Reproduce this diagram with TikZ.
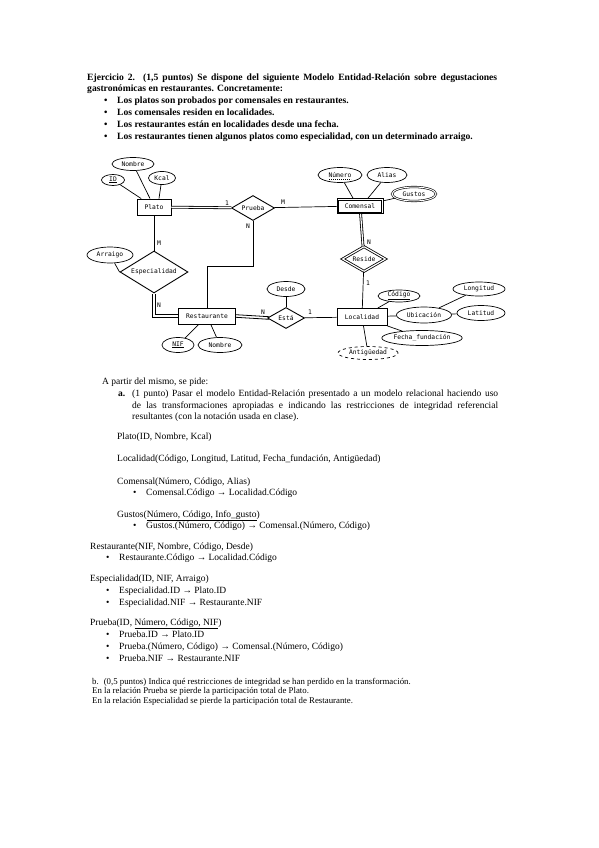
\documentclass[tikz,border=0pt]{standalone}
\usepackage{fontspec}
\setmainfont{Liberation Serif}
\setmonofont{DejaVu Sans Mono}
\usetikzlibrary{shapes.geometric}
\newcommand{\ermono}{\ttfamily\fontsize{6.3}{7}\selectfont}
\newcommand{\txtfont}{\fontsize{9.5}{11}\selectfont}
\newcommand{\smallfont}{\fontsize{8.8}{10}\selectfont}
\newcommand{\bul}{\makebox[13pt][l]{\textbullet}}
\tikzset{
  entity/.style={rectangle,draw,line width=0.9pt,inner sep=1pt,minimum height=16pt,font=\ermono},
  rel/.style={diamond,draw,line width=0.9pt,shape aspect=1.6,inner sep=0pt,font=\ermono},
  weakrel/.style={rel,line width=0.8pt,double,double distance=1.2pt},
  attr/.style={ellipse,draw,line width=0.7pt,inner sep=0pt,minimum height=15pt,font=\ermono},
  link/.style={draw,line width=0.7pt},
  twin/.style={draw,line width=0.8pt},
  total/.style={draw,line width=0.8pt,double,double distance=1.2pt},
  card/.style={inner sep=0pt,font=\ermono},
  txt/.style={anchor=base west,inner sep=0pt,font=\txtfont},
  ttl/.style={txt,font=\fontsize{9.6}{11}\selectfont\bfseries},
  note/.style={txt,font=\smallfont}
}
\begin{document}
\begin{tikzpicture}[x=1pt,y=-1pt]
\fill[white] (0,0) rectangle (599,848);
\useasboundingbox (0,0) rectangle (599,848);

% enunciado
\node[ttl] (h1) at (87,81) {\makebox[410pt][s]{Ejercicio 2. (1,5 puntos) Se dispone del siguiente Modelo Entidad-Relación sobre degustaciones}};
\node[ttl] (h2) at (87,92) {gastronómicas en restaurantes. Concretamente:};
\node[ttl] (h3) at (104,103.5) {\bul Los platos son probados por comensales en restaurantes.};
\node[ttl] (h4) at (104,115.5) {\bul Los comensales residen en localidades.};
\node[ttl] (h5) at (104,127.5) {\bul Los restaurantes están en localidades desde una fecha.};
\node[ttl] (h6) at (104,139.5) {\bul Los restaurantes tienen algunos platos como especialidad, con un determinado arraigo.};

% entidades y relaciones
\node[entity,minimum width=34pt] (plato) at (154,207) {Plato};
\node[entity,line width=0.7pt,minimum width=46pt,minimum height=15pt] (comensal) at (360,206) {Comensal};
\draw[twin,line width=0.6pt] ([shift={(2,2)}]comensal.north west) rectangle ([shift={(-2,-2)}]comensal.south east);
\node[entity,minimum width=57pt] (restaurante) at (207,316) {Restaurante};
\node[entity,minimum width=50pt,minimum height=17pt] (localidad) at (362,317) {Localidad};
\node[rel,minimum width=43pt,minimum height=25pt] (prueba) at (253,208) {Prueba};
\node[weakrel,minimum width=43pt,minimum height=25pt] (reside) at (364,259) {Reside};
\node[rel,minimum width=68pt,minimum height=42pt] (especialidad) at (154,272) {Especialidad};
\node[rel,minimum width=37pt,minimum height=21pt] (esta) at (286,318) {Está};

% atributos
\node[attr,minimum width=23pt,minimum height=11pt] (idplato) at (113,180) {\underline{ID}};
\node[attr,minimum width=42pt,minimum height=13pt] (nombrep) at (133,164) {Nombre};
\node[attr,minimum width=27pt,minimum height=13pt] (kcal) at (162,178) {Kcal};
\node[attr,minimum width=44pt] (numero) at (340,175) {Número};
\draw[line width=0.5pt,dash pattern=on 1.2pt off 0.8pt] ([shift={(-11,4)}]numero.center) -- ([shift={(11,4)}]numero.center);
\node[attr,minimum width=40pt] (alias) at (387,175) {Alias};
\node[attr,line width=0.6pt,double,double distance=1pt,minimum width=44pt,minimum height=14pt] (gustos) at (414,194) {Gustos};
\node[attr,minimum width=46pt,minimum height=16pt] (arraigo) at (110,255) {Arraigo};
\node[attr,minimum width=32pt] (nif) at (178,345) {\underline{NIF}};
\node[attr,minimum width=44pt] (nombrer) at (220,345) {Nombre};
\node[attr,minimum width=38pt] (desde) at (286,289) {Desde};
\node[attr,minimum width=42pt,minimum height=12pt] (codigo) at (399,296) {\underline{Código}};
\node[attr,minimum width=55pt,minimum height=16pt] (ubicacion) at (424,315) {Ubicación};
\node[attr,minimum width=52pt,minimum height=14pt] (longitud) at (479,289) {Longitud};
\node[attr,minimum width=48pt] (latitud) at (481,313) {Latitud};
\node[attr,minimum width=79pt] (fecha) at (422,338) {Fecha\_fundación};
\node[attr,dashed,minimum width=60pt,minimum height=13pt] (antig) at (368,353) {Antigüedad};

% conexiones
\draw[total] (plato) -- (prueba);
\draw[link] (prueba) -- (comensal);
\draw[link] (prueba.south) -- ++(0,45) -| (restaurante.north);
\draw[link] (plato) -- (especialidad);
\draw[twin] ([yshift=-1.3pt]restaurante.west) -| ([xshift=-1.3pt,yshift=-1pt]especialidad.south);
\draw[twin] ([yshift=1.3pt]restaurante.west) -| ([xshift=1.3pt,yshift=-1pt]especialidad.south);
\draw[twin] ([yshift=1.3pt]restaurante.east) -- ([xshift=2pt,yshift=1.3pt]esta.west);
\draw[twin] ([yshift=-1.3pt]restaurante.east) -- ([xshift=2pt,yshift=-1.3pt]esta.west);
\draw[link] (esta) -- (localidad);
\draw[total] (comensal) -- (reside);
\draw[link] (reside) -- (localidad);
\draw[link] (plato) -- (idplato);
\draw[link] ([xshift=-4pt]plato.north) -- (nombrep);
\draw[link] ([xshift=5pt]plato.north) -- (kcal);
\draw[link] ([xshift=-7pt]comensal.north) -- (numero);
\draw[link] ([xshift=8pt]comensal.north) -- (alias);
\draw[link] (comensal) -- (gustos);
\draw[link] (especialidad.west) -- (arraigo);
\draw[link] (restaurante) -- (nif);
\draw[link] (restaurante) -- (nombrer);
\draw[link] (esta) -- (desde);
\draw[link] (localidad) -- (codigo);
\draw[link] (localidad) -- (ubicacion);
\draw[link] (ubicacion) -- (longitud);
\draw[link] (ubicacion) -- (latitud);
\draw[link] (localidad.south east) -- (fecha);
\draw[link] (localidad) -- (antig);

% cardinalidades
\node[card] (c1) at (227,203) {1};
\node[card] (c2) at (283,202) {M};
\node[card] (c3) at (248,226) {N};
\node[card] (c4) at (159,243) {M};
\node[card] (c5) at (159,305) {N};
\node[card] (c6) at (263,312) {N};
\node[card] (c7) at (310,312) {1};
\node[card] (c8) at (369,242) {N};
\node[card] (c9) at (368,283) {1};

% apartado a
\node[txt] (p0) at (102,384) {A partir del mismo, se pide:};
\node[txt] (p1) at (118,396) {\makebox[14pt][l]{\textbf{a.}}\makebox[366pt][s]{(1 punto) Pasar el modelo Entidad-Relación presentado a un modelo relacional haciendo uso}};
\node[txt] (p2) at (132,408) {\makebox[366pt][s]{de las transformaciones apropiadas e indicando las restricciones de integridad referencial}};
\node[txt] (p3) at (132,419) {resultantes (con la notación usada en clase).};

\node[txt] (r1) at (117,439) {Plato(ID, Nombre, Kcal)};
\node[txt] (r2) at (117,461) {Localidad(Código, Longitud, Latitud, Fecha\_fundación, Antigüedad)};
\node[txt] (r3) at (117,484) {Comensal(Número, Código, Alias)};
\node[txt] (r3a) at (133,495) {\bul Comensal.Código → Localidad.Código};
\node[txt] (r4) at (117,517) {Gustos(\underline{Número, Código, Info\_gusto})};
\node[txt] (r4a) at (133,528) {\bul Gustos.(Número, Código) → Comensal.(Número, Código)};
\node[txt] (r5) at (90,549) {Restaurante(NIF, Nombre, Código, Desde)};
\node[txt] (r5a) at (106,560) {\bul Restaurante.Código → Localidad.Código};
\node[txt] (r6) at (90,581) {Especialidad(ID, NIF, Arraigo)};
\node[txt] (r6a) at (106,593) {\bul Especialidad.ID → Plato.ID};
\node[txt] (r6b) at (106,605) {\bul Especialidad.NIF → Restaurante.NIF};
\node[txt] (r7) at (90,625) {Prueba(ID, \underline{Número, Código, NIF})};
\node[txt] (r7a) at (106,637) {\bul Prueba.ID → Plato.ID};
\node[txt] (r7b) at (106,649) {\bul Prueba.(Número, Código) → Comensal.(Número, Código)};
\node[txt] (r7c) at (106,661) {\bul Prueba.NIF → Restaurante.NIF};

% apartado b
\node[note] (q1) at (92,684) {b.\hspace{5pt}(0,5 puntos) Indica qué restricciones de integridad se han perdido en la transformación.};
\node[note] (q2) at (92,693.5) {En la relación Prueba se pierde la participación total de Plato.};
\node[note] (q3) at (92,703) {En la relación Especialidad se pierde la participación total de Restaurante.};
\end{tikzpicture}
\end{document}
